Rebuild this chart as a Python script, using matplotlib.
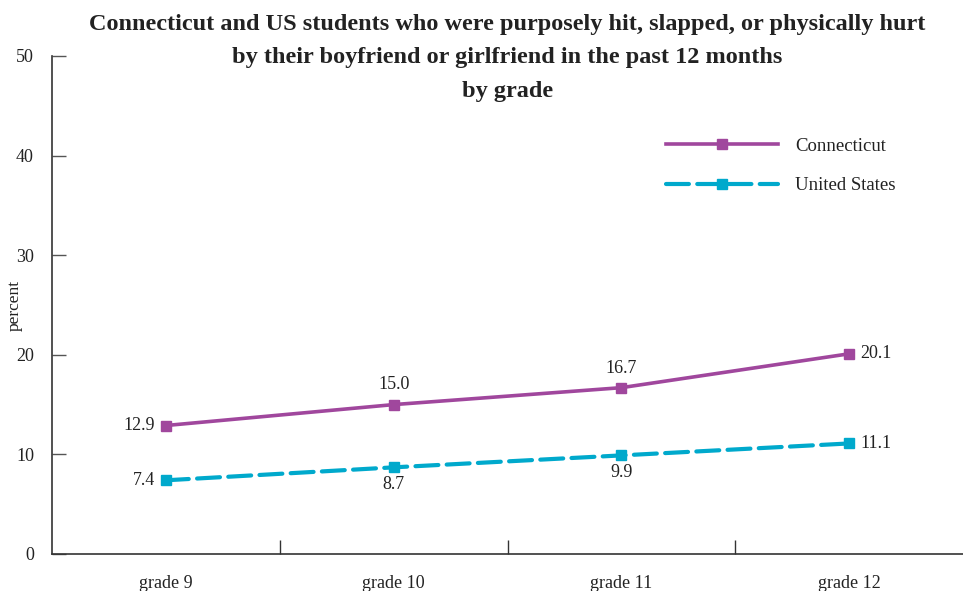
import matplotlib
matplotlib.use("Agg")
import matplotlib.pyplot as plt
from matplotlib.lines import Line2D

grades = ["grade 9", "grade 10", "grade 11", "grade 12"]
connecticut = [12.9, 15.0, 16.7, 20.1]
united_states = [7.4, 8.7, 9.9, 11.1]
y_ticks = [0, 10, 20, 30, 40, 50]

title = ("Connecticut and US students who were purposely hit, slapped, or physically hurt\n"
         "by their boyfriend or girlfriend in the past 12 months\n"
         "by grade")

ct_color = "#A0479D"
us_color = "#00A9CC"
text_color = "#222222"

plt.rcParams["font.family"] = ["Liberation Serif", "DejaVu Serif"]

fig = plt.figure(figsize=(9.63, 5.91), dpi=100)
ax = fig.add_axes([52 / 963, 37 / 591, 1 - 52 / 963, 498 / 591])

x = list(range(len(grades)))
us_dashes = (5.5, 2.0)
ax.plot(x, connecticut, color=ct_color, lw=2.6, marker="s", ms=7.5,
        solid_capstyle="round")
ax.plot(x, united_states, color=us_color, lw=3.0, marker="s", ms=7.5,
        dashes=us_dashes, dash_capstyle="round")

# value labels
fs_val = 13
ax.annotate(f"{connecticut[0]:.1f}", (0, connecticut[0]), xytext=(-8, 0),
            textcoords="offset points", ha="right", va="center", fontsize=fs_val, color=text_color)
ax.annotate(f"{connecticut[1]:.1f}", (1, connecticut[1]), xytext=(0, 8),
            textcoords="offset points", ha="center", va="bottom", fontsize=fs_val, color=text_color)
ax.annotate(f"{connecticut[2]:.1f}", (2, connecticut[2]), xytext=(0, 8),
            textcoords="offset points", ha="center", va="bottom", fontsize=fs_val, color=text_color)
ax.annotate(f"{connecticut[3]:.1f}", (3, connecticut[3]), xytext=(8, 0),
            textcoords="offset points", ha="left", va="center", fontsize=fs_val, color=text_color)
ax.annotate(f"{united_states[0]:.1f}", (0, united_states[0]), xytext=(-8, 0),
            textcoords="offset points", ha="right", va="center", fontsize=fs_val, color=text_color)
ax.annotate(f"{united_states[1]:.1f}", (1, united_states[1]), xytext=(0, -6),
            textcoords="offset points", ha="center", va="top", fontsize=fs_val, color=text_color)
ax.annotate(f"{united_states[2]:.1f}", (2, united_states[2]), xytext=(0, -6),
            textcoords="offset points", ha="center", va="top", fontsize=fs_val, color=text_color)
ax.annotate(f"{united_states[3]:.1f}", (3, united_states[3]), xytext=(8, 0),
            textcoords="offset points", ha="left", va="center", fontsize=fs_val, color=text_color)

ax.set_xlim(-0.5, 3.5)
ax.set_ylim(0, 50)

for s in ("top", "right"):
    ax.spines[s].set_visible(False)
for s in ("left", "bottom"):
    ax.spines[s].set_color("#333333")
    ax.spines[s].set_linewidth(1.2)

ax.set_yticks(y_ticks)
ax.set_yticklabels([str(v) for v in y_ticks], fontsize=13, color=text_color)
ax.tick_params(axis="y", direction="in", length=10, width=1.0, color="#555555", pad=13)

# category boundaries as ticks, labels placed under the category centres
ax.set_xticks([0.5, 1.5, 2.5])
ax.set_xticklabels([])
ax.tick_params(axis="x", direction="in", length=10, width=1.0, color="#333333")
for i, g in enumerate(grades):
    ax.text(i, -0.042, g, transform=ax.get_xaxis_transform(), ha="center", va="top",
            fontsize=13, color=text_color)

fig.text(15 / 963, 1 - 305 / 591, "percent", rotation=90, ha="center", va="center",
         fontsize=12.5, color=text_color)

fig.text(0.527, 0.977, title, ha="center", va="top", fontsize=17.5, fontweight="bold",
         color=text_color, linespacing=1.78)

handles = [
    Line2D([], [], color=ct_color, lw=2.6, marker="s", ms=7.5),
    Line2D([], [], color=us_color, lw=3.0, marker="s", ms=7.5, dashes=us_dashes,
           dash_capstyle="round"),
]
ax.legend(handles, ["Connecticut", "United States"], loc="upper left",
          bbox_to_anchor=(0.655, 0.87), frameon=False, fontsize=13.5, handlelength=6.0,
          handletextpad=0.9, labelspacing=1.2, labelcolor=text_color)

fig.savefig("out.png", dpi=100)
